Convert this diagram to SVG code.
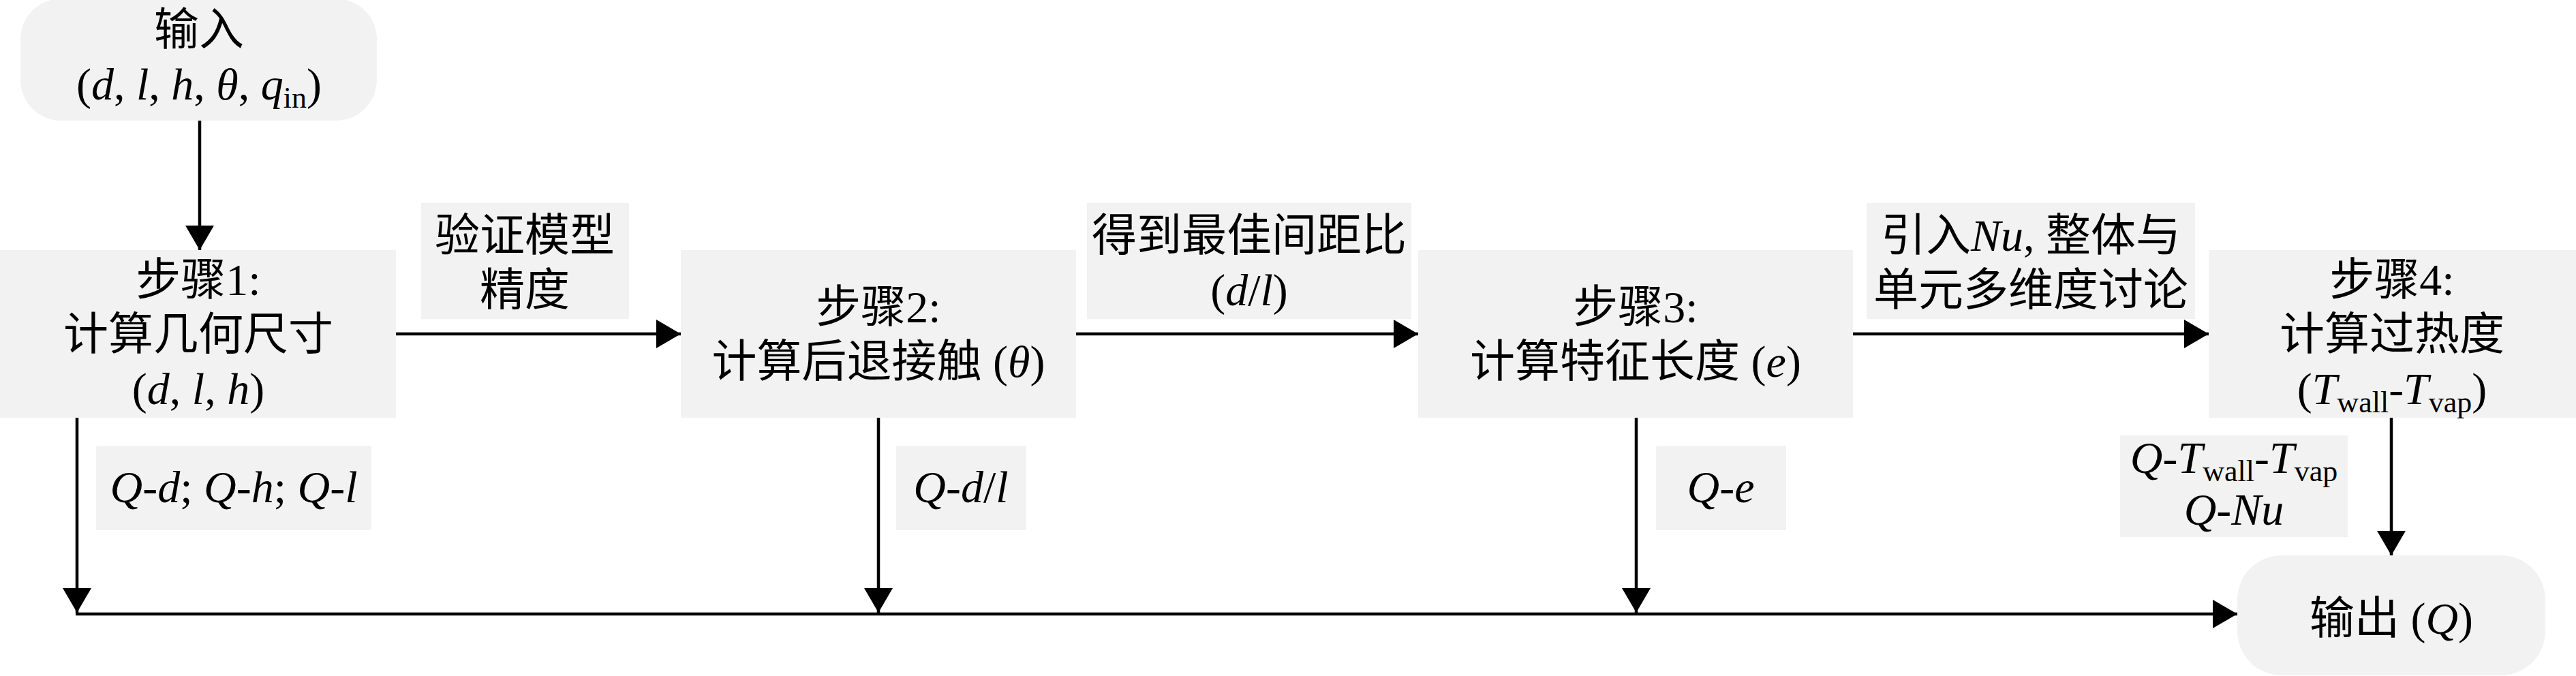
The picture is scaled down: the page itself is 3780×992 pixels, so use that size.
<svg xmlns="http://www.w3.org/2000/svg" width="3780" height="992" viewBox="0 0 3780 992">
  <style>
    .box { fill: #f2f2f2; }
    .t { font-family: "Liberation Serif", "Noto Sans CJK SC", serif; font-size: 66px; fill: #000; text-anchor: middle; }
    .i { font-style: italic; }
    .sub { font-size: 44px; }
    .ln { stroke: #000; stroke-width: 4.5; fill: none; }
  </style>
  <defs>
    <marker id="arr" markerUnits="userSpaceOnUse" markerWidth="36" markerHeight="42" refX="36" refY="21" orient="auto" viewBox="0 0 36 42">
      <path d="M0,0 L36,21 L0,42 z" fill="#000"/>
    </marker>
  </defs>
  <rect width="3780" height="992" fill="#fff"/>

  <g id="connectors">
    <line class="ln" x1="293" y1="177" x2="293" y2="367" marker-end="url(#arr)"/>
    <line class="ln" x1="581" y1="490" x2="999" y2="490" marker-end="url(#arr)"/>
    <line class="ln" x1="1579" y1="490" x2="2081" y2="490" marker-end="url(#arr)"/>
    <line class="ln" x1="2719" y1="490" x2="3241" y2="490" marker-end="url(#arr)"/>
    <line class="ln" x1="113" y1="613" x2="113" y2="899" marker-end="url(#arr)"/>
    <line class="ln" x1="1289" y1="613" x2="1289" y2="899" marker-end="url(#arr)"/>
    <line class="ln" x1="2401" y1="613" x2="2401" y2="899" marker-end="url(#arr)"/>
    <line class="ln" x1="3509" y1="613" x2="3509" y2="815" marker-end="url(#arr)"/>
    <line class="ln" x1="111" y1="901" x2="3283" y2="901" marker-end="url(#arr)"/>
  </g>

  <g id="input">
    <rect class="box" x="30" y="-2" width="523" height="179" rx="60" ry="60"/>
    <text class="t" x="292" y="66">输入</text>
    <text class="t" x="292" y="146">(<tspan class="i">d</tspan>, <tspan class="i">l</tspan>, <tspan class="i">h</tspan>, <tspan class="i">θ</tspan>, <tspan class="i">q</tspan><tspan class="sub" dy="12">in</tspan><tspan dy="-12">)</tspan></text>
  </g>

  <g id="step1">
    <rect class="box" x="0" y="367" width="581" height="246"/>
    <text class="t" x="291" y="433">步骤1:</text>
    <text class="t" x="291" y="513">计算几何尺寸</text>
    <text class="t" x="291" y="593">(<tspan class="i">d</tspan>, <tspan class="i">l</tspan>, <tspan class="i">h</tspan>)</text>
  </g>

  <g id="step2">
    <rect class="box" x="999" y="367" width="580" height="246"/>
    <text class="t" x="1289" y="473">步骤2:</text>
    <text class="t" x="1289" y="553">计算后退接触 (<tspan class="i">θ</tspan>)</text>
  </g>

  <g id="step3">
    <rect class="box" x="2081" y="367" width="638" height="246"/>
    <text class="t" x="2400" y="473">步骤3:</text>
    <text class="t" x="2400" y="553">计算特征长度 (<tspan class="i">e</tspan>)</text>
  </g>

  <g id="step4">
    <rect class="box" x="3241" y="367" width="539" height="246"/>
    <text class="t" x="3510" y="433">步骤4:</text>
    <text class="t" x="3510" y="513">计算过热度</text>
    <text class="t" x="3510" y="593">(<tspan class="i">T</tspan><tspan class="sub" dy="12">wall</tspan><tspan dy="-12">-</tspan><tspan class="i">T</tspan><tspan class="sub" dy="12">vap</tspan><tspan dy="-12">)</tspan></text>
  </g>

  <g id="output">
    <rect class="box" x="3283" y="815" width="452" height="176" rx="65" ry="65"/>
    <text class="t" x="3509" y="930">输出 (<tspan class="i">Q</tspan>)</text>
  </g>

  <g id="label-validate">
    <rect class="box" x="618" y="298" width="305" height="170"/>
    <text class="t" x="770" y="368">验证模型</text>
    <text class="t" x="770" y="448">精度</text>
  </g>

  <g id="label-ratio">
    <rect class="box" x="1595" y="298" width="476" height="170"/>
    <text class="t" x="1833" y="368">得到最佳间距比</text>
    <text class="t" x="1833" y="448">(<tspan class="i">d</tspan>/<tspan class="i">l</tspan>)</text>
  </g>

  <g id="label-nu">
    <rect class="box" x="2739" y="298" width="482" height="170"/>
    <text class="t" x="2980" y="368">引入<tspan class="i">Nu</tspan>, 整体与</text>
    <text class="t" x="2980" y="448">单元多维度讨论</text>
  </g>

  <g id="label-q1">
    <rect class="box" x="141" y="654" width="404" height="124"/>
    <text class="t" x="343" y="737"><tspan class="i">Q</tspan>-<tspan class="i">d</tspan>; <tspan class="i">Q</tspan>-<tspan class="i">h</tspan>; <tspan class="i">Q</tspan>-<tspan class="i">l</tspan></text>
  </g>

  <g id="label-q2">
    <rect class="box" x="1315" y="654" width="191" height="124"/>
    <text class="t" x="1410" y="737"><tspan class="i">Q</tspan>-<tspan class="i">d</tspan>/<tspan class="i">l</tspan></text>
  </g>

  <g id="label-q3">
    <rect class="box" x="2430" y="654" width="191" height="124"/>
    <text class="t" x="2525" y="737"><tspan class="i">Q</tspan>-<tspan class="i">e</tspan></text>
  </g>

  <g id="label-q4">
    <rect class="box" x="3111" y="639" width="334" height="149"/>
    <text class="t" x="3278" y="694"><tspan class="i">Q</tspan>-<tspan class="i">T</tspan><tspan class="sub" dy="12">wall</tspan><tspan dy="-12">-</tspan><tspan class="i">T</tspan><tspan class="sub" dy="12">vap</tspan></text>
    <text class="t" x="3278" y="770"><tspan class="i">Q</tspan>-<tspan class="i">Nu</tspan></text>
  </g>
</svg>
